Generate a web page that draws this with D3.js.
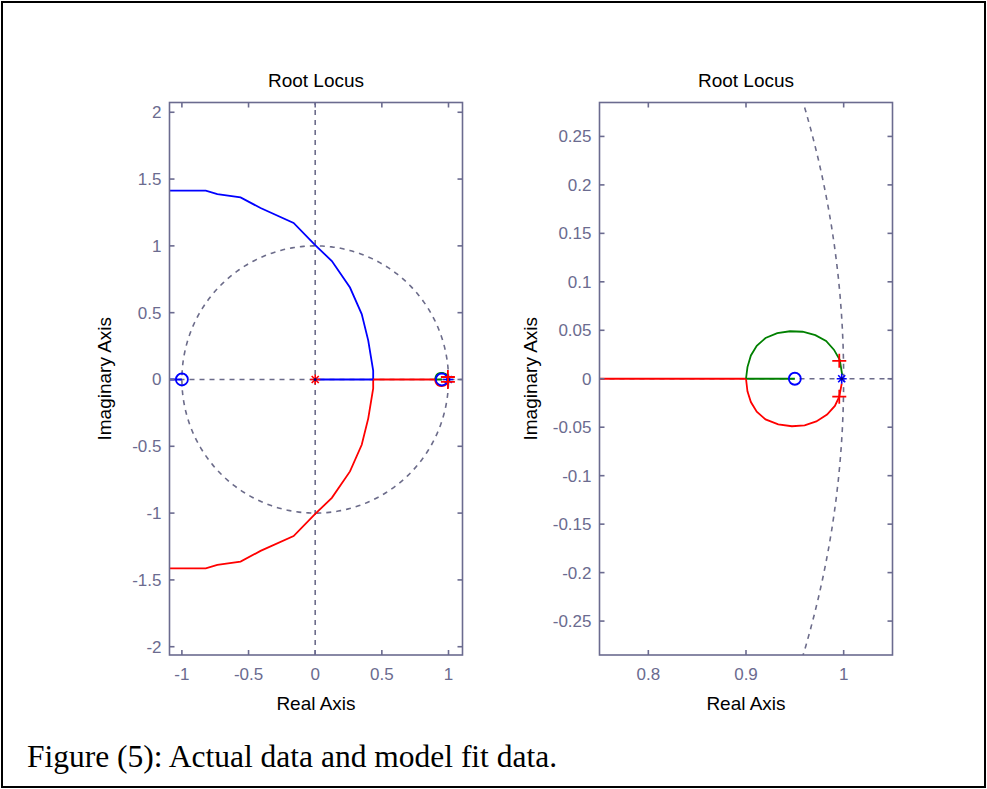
<!DOCTYPE html>
<html>
<head>
<meta charset="utf-8">
<script src="https://cdn.jsdelivr.net/npm/d3@7"></script>
<style>
  body { margin: 0; background: #fff; }
</style>
</head>
<body>
<div id="chart"></div>
<script>
// Root locus branches, as [real, imag] pairs
const upperArc = [[-1.2, 1.413], [-0.821, 1.413], [-0.734, 1.388], [-0.56, 1.363], [-0.41, 1.283],
  [-0.162, 1.172], [0, 1.006], [0.125, 0.886], [0.261, 0.688], [0.349, 0.489], [0.398, 0.291],
  [0.435, 0.067], [0.435, 0]];
const lowerArc = [[-1.2, -1.413], [-0.821, -1.413], [-0.734, -1.388], [-0.56, -1.363], [-0.41, -1.283],
  [-0.162, -1.172], [0, -1.006], [0.125, -0.886], [0.261, -0.688], [0.349, -0.489], [0.398, -0.291],
  [0.435, -0.067], [0.435, 0]];
const realBlue = [[0, 0], [0.435, 0]];
const realBlueLeft = [[-1.2, 0], [-1, 0]];
const realRed = [[0.435, 0], [0.9, 0]];
const realGreen = [[0.9, 0], [0.95, 0]];
const circleUpper = [[0.9, 0], [0.9015, 0.012], [0.905, 0.024], [0.911, 0.034], [0.92, 0.042],
  [0.932, 0.047], [0.945, 0.049], [0.958, 0.0485], [0.971, 0.045], [0.982, 0.039], [0.99, 0.03],
  [0.996, 0.0195], [0.9985, 0.004]];
const circleLower = [[0.9, 0], [0.9015, -0.013], [0.905, -0.024], [0.911, -0.034], [0.92, -0.042],
  [0.933, -0.047], [0.947, -0.049], [0.96, -0.048], [0.972, -0.044], [0.983, -0.037], [0.991, -0.028],
  [0.9955, -0.0185], [0.998, -0.005]];

const zeros = [[-1, 0], [0.95, 0]];
const starPoles = [[0, 0, "#ff0000"], [0.998, 0, "#0000ff"]];
const plusPoles = [[0.9955, 0.0185], [0.9955, -0.0185]];

const leftXTicks = [-1, -0.5, 0, 0.5, 1];
const leftYTicks = [-2, -1.5, -1, -0.5, 0, 0.5, 1, 1.5, 2];
const rightXTicks = [0.8, 0.9, 1];
const rightYTicks = [-0.25, -0.2, -0.15, -0.1, -0.05, 0, 0.05, 0.1, 0.15, 0.2, 0.25];

const width = 987, height = 789;
const axisColor = "#6b6b8f";
const plotTop = 102.5, plotBottom = 655;

const branches = [
  { pts: upperArc, color: "#0000ff" },
  { pts: lowerArc, color: "#ff0000" },
  { pts: realBlueLeft, color: "#0000ff" },
  { pts: realBlue, color: "#0000ff" },
  { pts: realRed, color: "#ff0000" },
  { pts: realGreen, color: "#008000" },
  { pts: circleUpper, color: "#008000" },
  { pts: circleLower, color: "#ff0000" }
];

const panels = [
  { id: "l", left: 169.5, right: 462.5, xDom: [-1.093, 1.105], yDom: [-2.062, 2.073],
    xTicks: leftXTicks, yTicks: leftYTicks, ylabX: 111 },
  { id: "r", left: 599.5, right: 892.5, xDom: [0.75, 1.05], yDom: [-0.285, 0.285],
    xTicks: rightXTicks, yTicks: rightYTicks, ylabX: 537 }
];

const svg = d3.select("#chart").append("svg")
  .attr("width", width)
  .attr("height", height)
  .attr("viewBox", [0, 0, width, height])
  .style("font-family", "'Liberation Sans', Arial, sans-serif");

svg.append("rect")
  .attr("x", 2).attr("y", 2)
  .attr("width", width - 4).attr("height", height - 4)
  .attr("fill", "#fff")
  .attr("stroke", "#000")
  .attr("stroke-width", 2);

panels.forEach(p => {
  const x = d3.scaleLinear().domain(p.xDom).range([p.left, p.right]);
  const y = d3.scaleLinear().domain(p.yDom).range([plotBottom, plotTop]);
  const g = svg.append("g");

  g.append("clipPath").attr("id", "clip-" + p.id)
    .append("rect")
    .attr("x", p.left).attr("y", plotTop)
    .attr("width", p.right - p.left).attr("height", plotBottom - plotTop);

  const plot = g.append("g").attr("clip-path", `url(#clip-${p.id})`);
  const line = d3.line().x(d => x(d[0])).y(d => y(d[1]));

  // dashed grid: unit circle and the two axes through the origin
  const unit = d3.range(0, 361, 1).map(a => [Math.cos(a * Math.PI / 180), Math.sin(a * Math.PI / 180)]);
  const dashed = plot.append("g")
    .attr("fill", "none")
    .attr("stroke", "#6c6c8a")
    .attr("stroke-width", 1.6)
    .attr("stroke-dasharray", "5,5");
  dashed.append("path").attr("d", line(unit));
  dashed.append("path").attr("d", line([[p.xDom[0], 0], [p.xDom[1], 0]]));
  dashed.append("path").attr("d", line([[0, p.yDom[0]], [0, p.yDom[1]]]));

  plot.selectAll(".branch")
    .data(branches)
    .join("path")
    .attr("class", "branch")
    .attr("d", d => line(d.pts))
    .attr("fill", "none")
    .attr("stroke", d => d.color)
    .attr("stroke-width", 1.8);

  plot.selectAll(".zero")
    .data(zeros)
    .join("circle")
    .attr("class", "zero")
    .attr("cx", d => x(d[0]))
    .attr("cy", d => y(d[1]))
    .attr("r", 6)
    .attr("fill", "none")
    .attr("stroke", "#0000ff")
    .attr("stroke-width", 1.8);

  const star = plot.selectAll(".star")
    .data(starPoles)
    .join("g")
    .attr("class", "star")
    .attr("transform", d => `translate(${x(d[0])},${y(d[1])})`)
    .attr("stroke", d => d[2])
    .attr("stroke-width", 1.6);
  [0, 45, 90, 135].forEach(a => {
    const dx = 5 * Math.cos(a * Math.PI / 180), dy = 5 * Math.sin(a * Math.PI / 180);
    star.append("line").attr("x1", -dx).attr("y1", -dy).attr("x2", dx).attr("y2", dy);
  });
  star.append("circle").attr("r", 1.5).attr("fill", "#000080").attr("stroke", "none");

  const plus = plot.selectAll(".plus")
    .data(plusPoles)
    .join("g")
    .attr("class", "plus")
    .attr("transform", d => `translate(${x(d[0])},${y(d[1])})`)
    .attr("stroke", "#ff0000")
    .attr("stroke-width", 1.8);
  plus.append("line").attr("x1", -7).attr("x2", 7);
  plus.append("line").attr("y1", -7).attr("y2", 7);

  // axes box with inward ticks on all four sides
  const tl = 5;
  const frame = g.append("g").attr("stroke", axisColor).attr("stroke-width", 1.6);
  frame.append("rect")
    .attr("x", p.left).attr("y", plotTop)
    .attr("width", p.right - p.left).attr("height", plotBottom - plotTop)
    .attr("fill", "none");
  p.xTicks.forEach(t => {
    frame.append("line").attr("x1", x(t)).attr("x2", x(t)).attr("y1", plotBottom).attr("y2", plotBottom - tl);
    frame.append("line").attr("x1", x(t)).attr("x2", x(t)).attr("y1", plotTop).attr("y2", plotTop + tl);
  });
  p.yTicks.forEach(t => {
    frame.append("line").attr("y1", y(t)).attr("y2", y(t)).attr("x1", p.left).attr("x2", p.left + tl);
    frame.append("line").attr("y1", y(t)).attr("y2", y(t)).attr("x1", p.right).attr("x2", p.right - tl);
  });

  g.selectAll(".xt")
    .data(p.xTicks)
    .join("text")
    .attr("class", "xt")
    .attr("x", d => x(d))
    .attr("y", plotBottom + 25)
    .attr("text-anchor", "middle")
    .attr("fill", axisColor)
    .attr("font-size", 17)
    .text(d => String(d));

  g.selectAll(".yt")
    .data(p.yTicks)
    .join("text")
    .attr("class", "yt")
    .attr("x", p.left - 8)
    .attr("y", d => y(d))
    .attr("dy", "0.35em")
    .attr("text-anchor", "end")
    .attr("fill", axisColor)
    .attr("font-size", 17)
    .text(d => String(d));

  const cx = (p.left + p.right) / 2;
  g.append("text")
    .attr("x", cx).attr("y", 87)
    .attr("text-anchor", "middle")
    .attr("font-size", 19)
    .text("Root Locus");
  g.append("text")
    .attr("x", cx).attr("y", 710)
    .attr("text-anchor", "middle")
    .attr("font-size", 19)
    .text("Real Axis");
  g.append("text")
    .attr("transform", `translate(${p.ylabX},${(plotTop + plotBottom) / 2}) rotate(-90)`)
    .attr("text-anchor", "middle")
    .attr("font-size", 19)
    .text("Imaginary Axis");
});

svg.append("text")
  .attr("x", 27).attr("y", 767)
  .attr("font-family", "'Liberation Serif', 'Times New Roman', serif")
  .attr("font-size", 31.5)
  .text("Figure (5): Actual data and model fit data.");
</script>
</body>
</html>
